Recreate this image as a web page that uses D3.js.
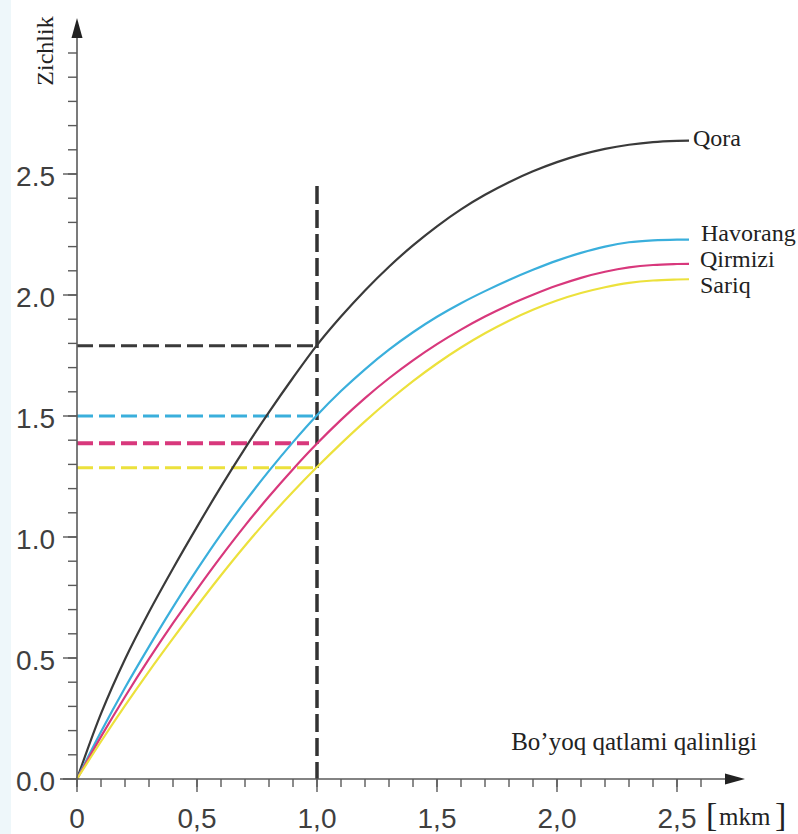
<!DOCTYPE html>
<html><head><meta charset="utf-8">
<script src="https://cdn.jsdelivr.net/npm/d3@7"></script>
<style>body{margin:0;background:#fff} svg{display:block}</style>
</head><body><svg id="chart" width="798" height="834"></svg>
<script>
// ---- data ----
const thickness = [0,0.1,0.2,0.3,0.4,0.5,0.6,0.7,0.8,0.9,1.0,1.1,1.2,1.3,1.4,1.5,1.6,1.7,1.8,1.9,2.0,2.1,2.2,2.3,2.4,2.5,2.55];
const qora     = [0,0.27,0.495,0.69,0.87,1.042,1.208,1.366,1.516,1.658,1.793,1.911,2.019,2.117,2.205,2.284,2.354,2.414,2.466,2.511,2.549,2.58,2.604,2.621,2.632,2.637,2.638];
const havorang = [0,0.195,0.377,0.547,0.71,0.865,1.011,1.146,1.273,1.392,1.503,1.603,1.693,1.774,1.846,1.91,1.966,2.016,2.062,2.104,2.142,2.174,2.2,2.218,2.226,2.229,2.229];
const qirmizi  = [0,0.175,0.34,0.496,0.644,0.784,0.919,1.047,1.167,1.28,1.386,1.484,1.574,1.656,1.73,1.797,1.857,1.911,1.959,2.001,2.039,2.071,2.096,2.114,2.124,2.128,2.129];
const sariq    = [0,0.155,0.303,0.445,0.581,0.714,0.842,0.964,1.079,1.187,1.289,1.386,1.478,1.564,1.644,1.717,1.783,1.842,1.894,1.939,1.977,2.008,2.032,2.05,2.06,2.064,2.065];
const seriesNames = ["Qora","Havorang","Qirmizi","Sariq"];
const refX = 1.0;
const refTop = 2.45;
const refValues = [1.79, 1.5, 1.387, 1.286];
const xMajorTicks = [0,0.5,1.0,1.5,2.0,2.5];
const xTickLabels = ["0","0,5","1,0","1,5","2,0","2,5"];
const yMajorTicks = [0,0.5,1.0,1.5,2.0,2.5];
const yTickLabels = ["0.0","0.5","1.0","1.5","2.0","2.5"];
const xMinorTicks = d3.range(1,27).map(i=>i/10);
const yMinorTicks = d3.range(1,31).map(i=>i/10);
const yLabel = "Zichlik";
const xLabel = "Bo\u2019yoq qatlami qalinligi";
const unitLabel = "mkm";

// ---- styles ----
const colors = ["#3a3a3a","#3aafdc","#d8387c","#ece13c"];
const dashWidths = [3,3,4,3];
const labelOffsets = [[4,5],[12,1],[11,3],[11,14]];
const axisColor = "#5a5a5a";
const tickTextColor = "#3f3f3f";

const svg = d3.select("#chart");
svg.append("rect").attr("x",0).attr("y",0).attr("width",798).attr("height",834).attr("fill","#fff");
svg.append("rect").attr("x",0).attr("y",0).attr("width",11).attr("height",834).attr("fill","#eef7fa");

const x = d3.scaleLinear().domain([0,2.5]).range([77,677]);
const y = d3.scaleLinear().domain([0,2.5]).range([779,174]);

const series = [qora,havorang,qirmizi,sariq];

// reference dashed lines (horizontal)
refValues.forEach((v,i)=>{
  svg.append("line")
    .attr("x1",x(0)).attr("x2",x(refX)-(i===2?8:0))
    .attr("y1",y(v)).attr("y2",y(v))
    .attr("stroke",colors[i]).attr("stroke-width",dashWidths[i])
    .attr("stroke-dasharray","16,6");
});
// vertical dashed
svg.append("line")
  .attr("x1",x(refX)).attr("x2",x(refX))
  .attr("y1",y(refTop)).attr("y2",y(0))
  .attr("stroke","#333").attr("stroke-width",3.5)
  .attr("stroke-dasharray","18,6");

// curves
const line = d3.line().x((d,i)=>x(thickness[i])).y(d=>y(d)).curve(d3.curveCatmullRom.alpha(0.5));
series.forEach((s,i)=>{
  svg.append("path").attr("d",line(s)).attr("fill","none")
    .attr("stroke",colors[i]).attr("stroke-width",2.2);
});

// series labels
series.forEach((s,i)=>{
  const n = s.length-1;
  svg.append("text")
    .attr("x",x(thickness[n])+labelOffsets[i][0])
    .attr("y",y(s[n])+labelOffsets[i][1])
    .attr("font-family","'Liberation Serif','Times New Roman',serif")
    .attr("font-size",24).attr("fill","#222")
    .text(seriesNames[i]);
});

// axes lines
svg.append("line").attr("x1",60).attr("x2",728).attr("y1",y(0)).attr("y2",y(0))
  .attr("stroke",axisColor).attr("stroke-width",1.6);
svg.append("line").attr("x1",x(0)).attr("x2",x(0)).attr("y1",y(0)+8).attr("y2",34)
  .attr("stroke",axisColor).attr("stroke-width",1.6);
svg.append("path").attr("d","M745,779 L725,773.5 L725,784.5 Z").attr("fill","#222");
svg.append("path").attr("d","M77,18 L71.5,38 L82.5,38 Z").attr("fill","#222");

// x ticks
svg.selectAll(".xminor").data(xMinorTicks).enter().append("line")
  .attr("x1",d=>x(d)).attr("x2",d=>x(d)).attr("y1",y(0)).attr("y2",y(0)+8)
  .attr("stroke",axisColor).attr("stroke-width",1.4);
svg.selectAll(".xmajor").data(xMajorTicks).enter().append("line")
  .attr("x1",d=>x(d)).attr("x2",d=>x(d)).attr("y1",y(0)).attr("y2",y(0)+13)
  .attr("stroke",axisColor).attr("stroke-width",1.4);
svg.selectAll(".xlab").data(xMajorTicks).enter().append("text")
  .attr("x",d=>x(d)).attr("y",828).attr("text-anchor","middle")
  .attr("font-family","'Liberation Sans',Arial,sans-serif").attr("font-size",28)
  .attr("fill",tickTextColor).text((d,i)=>xTickLabels[i]);

// y ticks
svg.selectAll(".yminor").data(yMinorTicks).enter().append("line")
  .attr("x1",x(0)-9).attr("x2",x(0)).attr("y1",d=>y(d)).attr("y2",d=>y(d))
  .attr("stroke",axisColor).attr("stroke-width",1.4);
svg.selectAll(".ymajor").data(yMajorTicks).enter().append("line")
  .attr("x1",x(0)-14).attr("x2",x(0)).attr("y1",d=>y(d)).attr("y2",d=>y(d))
  .attr("stroke",axisColor).attr("stroke-width",1.4);
svg.selectAll(".ylab").data(yMajorTicks).enter().append("text")
  .attr("x",55).attr("y",d=>y(d)+12).attr("text-anchor","end")
  .attr("font-family","'Liberation Sans',Arial,sans-serif").attr("font-size",28)
  .attr("fill",tickTextColor).text((d,i)=>yTickLabels[i]);

// axis titles
svg.append("text").attr("transform","translate(53,51) rotate(-90)")
  .attr("text-anchor","middle")
  .attr("font-family","'Liberation Serif','Times New Roman',serif")
  .attr("font-size",24).attr("fill","#222").text(yLabel);
svg.append("text").attr("x",757).attr("y",750).attr("text-anchor","end")
  .attr("font-family","'Liberation Serif','Times New Roman',serif")
  .attr("font-size",25).attr("fill","#222").text(xLabel);
// unit with brackets
svg.append("text").attr("x",706).attr("y",826)
  .attr("font-family","'Liberation Serif','Times New Roman',serif")
  .attr("font-size",34).attr("fill","#222").text("[");
svg.append("text").attr("x",719).attr("y",825)
  .attr("font-family","'Liberation Serif','Times New Roman',serif")
  .attr("font-size",25).attr("fill","#222").text(unitLabel);
svg.append("text").attr("x",775).attr("y",826)
  .attr("font-family","'Liberation Serif','Times New Roman',serif")
  .attr("font-size",34).attr("fill","#222").text("]");
</script></body></html>
